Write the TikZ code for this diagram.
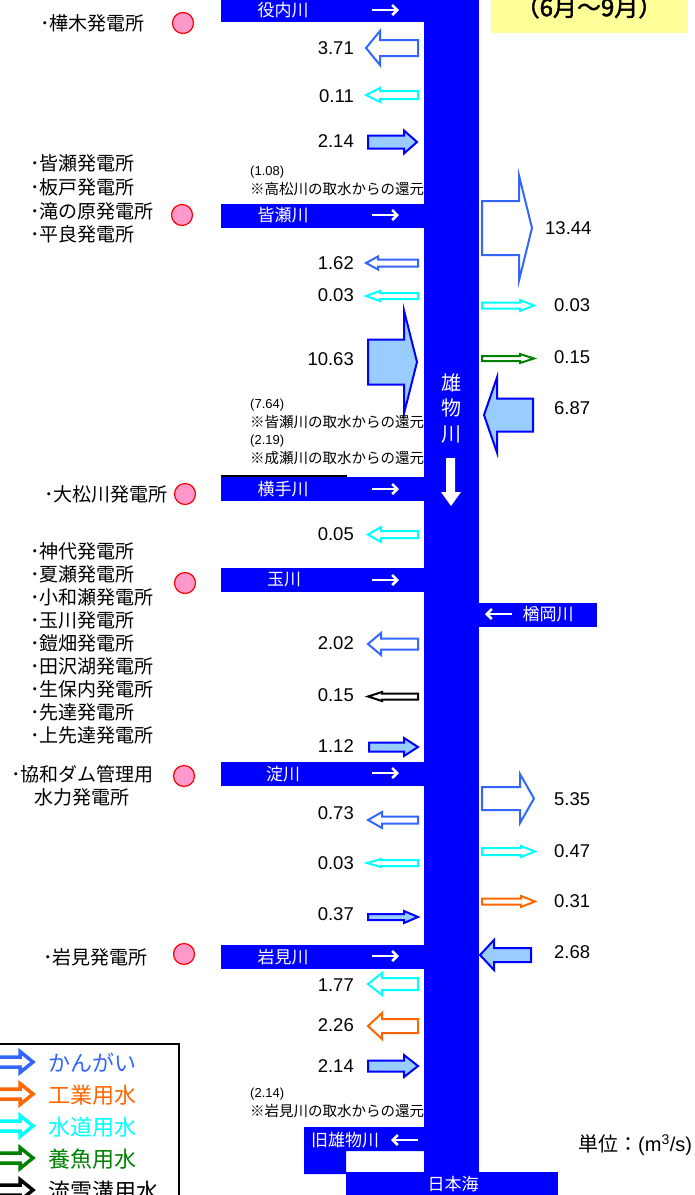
\documentclass[tikz,border=0pt]{standalone}
\usepackage{fontspec}
\setmainfont{Liberation Sans}
\newfontfamily\jp{Noto Sans CJK JP}
\newfontfamily\jpb{Noto Sans CJK JP}[FakeBold=2]
\usetikzlibrary{arrows.meta}
\definecolor{rv}{HTML}{0000FF}
\definecolor{irrc}{HTML}{3366FF}
\definecolor{indc}{HTML}{FF6600}
\definecolor{watc}{HTML}{00FFFF}
\definecolor{fishc}{HTML}{008000}
\definecolor{lb}{HTML}{99CCFF}
\definecolor{pk}{HTML}{FF99CC}
\definecolor{yl}{HTML}{FFFF99}
% block arrow: style, tail x, tip x, centre y, shaft half, head half, head length
\newcommand\blk[7]{%
  \pgfmathsetmacro\hbx{(#3>#2) ? (#3-#7) : (#3+#7)}%
  \draw[#1] (#2,#4-#5) -- (\hbx,#4-#5) -- (\hbx,#4-#6) -- (#3,#4) -- (\hbx,#4+#6) -- (\hbx,#4+#5) -- (#2,#4+#5) -- cycle;}
\tikzset{
 irr/.style={draw=irrc, line width=2pt, fill=white},
 wat/.style={draw=watc, line width=2pt, fill=white},
 ind/.style={draw=indc, line width=2pt, fill=white},
 fish/.style={draw=fishc, line width=2pt, fill=white},
 snow/.style={draw=black, line width=2pt, fill=white},
 ret/.style={draw=rv, line width=2pt, fill=lb},
 num/.style={font=\fontsize{18.5}{20}\selectfont, inner sep=0pt},
 numl/.style={num, anchor=east},
 numr/.style={num, anchor=west},
 st/.style={font=\jp\fontsize{19}{20}\selectfont, inner sep=0pt, anchor=west},
 note/.style={font=\jp\fontsize{14.5}{16}\selectfont, inner sep=0pt, anchor=west},
 pnote/.style={font=\fontsize{13}{15}\selectfont, inner sep=0pt, anchor=west},
 bar/.style={fill=rv, draw=none},
 barlab/.style={font=\jp\fontsize{17}{18}\selectfont, text=white, inner sep=0pt},
 wa/.style={draw=white, line width=2.5pt, -{Straight Barb[length=5pt,width=10pt]}},
 plant/.style={circle, fill=pk, draw=red, line width=1.2pt, minimum size=21pt, inner sep=0pt},
 leg/.style={font=\jp\fontsize{22}{24}\selectfont, inner sep=0pt, anchor=west},
 legar/.style={fill=white, line width=3.5pt},
}
\begin{document}
\begin{tikzpicture}[x=1pt,y=-1pt]
\useasboundingbox (0,0) rectangle (694,1195);
% title box
\fill[yl] (491,-5) rectangle (688,33);
\node[font=\jpb\fontsize{24}{26}\selectfont, inner sep=0pt] (title) at (589,7) {（6月～9月）};
% main river and tributaries
\fill[rv] (424,-2) rectangle (479,1174);
\fill[rv] (221,-2) rectangle (424,22);
\fill[rv] (221,204) rectangle (424,228);
\fill[rv] (221,477) rectangle (424,501);
\draw[black, line width=2pt] (221,476) -- (347,476);
\fill[rv] (221,568) rectangle (424,592);
\fill[rv] (221,762) rectangle (424,786);
\fill[rv] (221,945) rectangle (424,969);
\fill[rv] (479,603) rectangle (597,627);
\fill[rv] (304,1127) -- (424,1127) -- (424,1151) -- (346,1151) -- (346,1174) -- (304,1174) -- cycle;
\fill[rv] (346,1172) rectangle (558,1197);
% bar labels
\node[barlab] (yakunai) at (283,10) {役内川};
\draw[wa] (372,10) -- (399,10);
\node[barlab] (minase) at (283,215) {皆瀬川};
\draw[wa] (372,215) -- (399,215);
\node[barlab] (yokote) at (283,489) {横手川};
\draw[wa] (372,489) -- (399,489);
\node[barlab] (tama) at (284,580) {玉川};
\draw[wa] (372,580) -- (399,580);
\node[barlab] (yodo) at (283,774) {淀川};
\draw[wa] (372,773) -- (399,773);
\node[barlab] (iwami) at (283,957) {岩見川};
\draw[wa] (372,956) -- (399,956);
\node[barlab] (naraoka) at (548,614) {楢岡川};
\draw[wa] (512,614) -- (485,614);
\node[barlab] (kyu) at (345,1140) {旧雄物川};
\draw[wa] (418,1140) -- (391,1140);
\node[barlab] (nihonkai) at (453,1184) {日本海};
\node[font=\jp\fontsize{20}{25.5}\selectfont, text=white, align=center, inner sep=0pt] (omono) at (451,408) {雄\\物\\川};
\fill[white] (446,458) -- (455,458) -- (455,492) -- (461,492) -- (451,506) -- (441,492) -- (446,492) -- cycle;
% left-side arrows
\blk{irr}{418}{366}{48}{8}{17}{14}
\blk{wat}{418}{366}{95}{4}{7}{14}
\blk{ret}{368}{417}{142}{6.5}{11.5}{13}
\blk{irr}{418}{366}{263}{3.5}{6.5}{12}
\blk{wat}{418}{366}{296}{3}{5}{14}
\blk{ret}{368}{417}{362}{22.5}{51.5}{13}
\blk{wat}{418}{368}{534.5}{3.5}{7.5}{13}
\blk{irr}{418}{368}{644}{5.5}{11}{13}
\blk{snow}{418}{368}{696.5}{3}{4.5}{14}
\blk{ret}{369}{418}{747}{4.5}{9}{14}
\blk{irr}{418}{368}{820}{3.5}{8}{14}
\blk{wat}{418}{367}{863}{3}{4}{14}
\blk{ret}{368}{418}{917}{3}{6}{14}
\blk{wat}{418}{368}{984}{6}{11}{14}
\blk{ind}{418}{368}{1026}{7}{13}{14}
\blk{ret}{368}{418}{1066}{5.5}{11}{14}
% right-side arrows
\blk{irr}{482}{532}{228}{27}{52.5}{13}
\blk{wat}{482}{534}{305.5}{3}{5.5}{14}
\blk{fish}{482}{534}{358.5}{2.5}{4.5}{14}
\blk{ret}{533}{484}{415}{16.5}{37.5}{13}
\blk{irr}{482}{534}{798.5}{11.5}{24.5}{14}
\blk{wat}{482}{535}{851.5}{3.5}{5.5}{14}
\blk{ind}{482}{535}{901.5}{3}{5.5}{14}
\blk{ret}{531}{480}{955}{7}{15}{14}
% numbers left
\node[numl] (n1) at (354,48) {3.71};
\node[numl] (n2) at (354,96) {0.11};
\node[numl] (n3) at (354,141) {2.14};
\node[numl] (n4) at (354,263) {1.62};
\node[numl] (n5) at (354,295) {0.03};
\node[numl] (n6) at (354,359) {10.63};
\node[numl] (n7) at (354,534) {0.05};
\node[numl] (n8) at (354,643) {2.02};
\node[numl] (n9) at (354,695) {0.15};
\node[numl] (n10) at (354,746) {1.12};
\node[numl] (n11) at (354,813) {0.73};
\node[numl] (n12) at (354,863) {0.03};
\node[numl] (n13) at (354,914) {0.37};
\node[numl] (n14) at (354,985) {1.77};
\node[numl] (n15) at (354,1025) {2.26};
\node[numl] (n16) at (354,1066) {2.14};
% numbers right
\node[numr] (r1) at (545,228) {13.44};
\node[numr] (r2) at (554,305) {0.03};
\node[numr] (r3) at (554,357) {0.15};
\node[numr] (r4) at (554,408) {6.87};
\node[numr] (r5) at (554,799) {5.35};
\node[numr] (r6) at (554,851) {0.47};
\node[numr] (r7) at (554,901) {0.31};
\node[numr] (r8) at (554,952) {2.68};
% notes
\node[pnote] (p1) at (250,172) {(1.08)};
\node[note] (t1) at (250,189) {※高松川の取水からの還元};
\node[pnote] (p2) at (250,405) {(7.64)};
\node[note] (t2) at (250,422) {※皆瀬川の取水からの還元};
\node[pnote] (p3) at (250,441) {(2.19)};
\node[note] (t3) at (250,458) {※成瀬川の取水からの還元};
\node[pnote] (p4) at (250,1094) {(2.14)};
\node[note] (t4) at (250,1111) {※岩見川の取水からの還元};
% power stations
\node[st] (s1) at (40,23) {･樺木発電所};
\node[plant] (c1) at (183,23) {};
\node[st] (s2) at (30,163) {･皆瀬発電所};
\node[st] (s3) at (30,187) {･板戸発電所};
\node[st] (s4) at (30,211) {･滝の原発電所};
\node[st] (s5) at (30,234) {･平良発電所};
\node[plant] (c2) at (182,215) {};
\node[st] (s6) at (44,494) {･大松川発電所};
\node[plant] (c3) at (185,494) {};
\node[st] (s7) at (30,551) {･神代発電所};
\node[st] (s8) at (30,574) {･夏瀬発電所};
\node[st] (s9) at (30,597) {･小和瀬発電所};
\node[st] (s10) at (30,620) {･玉川発電所};
\node[st] (s11) at (30,643) {･鎧畑発電所};
\node[st] (s12) at (30,666) {･田沢湖発電所};
\node[st] (s13) at (30,689) {･生保内発電所};
\node[st] (s14) at (30,712) {･先達発電所};
\node[st] (s15) at (30,735) {･上先達発電所};
\node[plant] (c4) at (185,583) {};
\node[st] (s16) at (11,774) {･協和ダム管理用};
\node[st] (s17) at (34,797) {水力発電所};
\node[plant] (c5) at (184,776) {};
\node[st] (s18) at (43,957) {･岩見発電所};
\node[plant] (c6) at (184,954) {};
% legend
\draw[line width=1.2pt] (-5,1044) rectangle (179,1210);
\blk{legar,draw=irrc}{-10}{33}{1062}{5}{10.5}{13}
\node[leg, text=irrc] (l1) at (48,1063) {かんがい};
\blk{legar,draw=indc}{-10}{33}{1094}{5}{10.5}{13}
\node[leg, text=indc] (l2) at (48,1095) {工業用水};
\blk{legar,draw=watc}{-10}{33}{1126}{5}{10.5}{13}
\node[leg, text=watc] (l3) at (48,1127) {水道用水};
\blk{legar,draw=fishc}{-10}{33}{1158}{5}{10.5}{13}
\node[leg, text=fishc] (l4) at (48,1159) {養魚用水};
\blk{legar,draw=black}{-10}{33}{1190}{5}{10.5}{13}
\node[leg, text=black] (l5) at (48,1191) {流雪溝用水};
% unit
\node[inner sep=0pt, anchor=west, font=\fontsize{20}{22}\selectfont] (unit) at (578,1145) {{\jp 単位：}(m\textsuperscript{3}/s)};
\end{tikzpicture}
\end{document}
